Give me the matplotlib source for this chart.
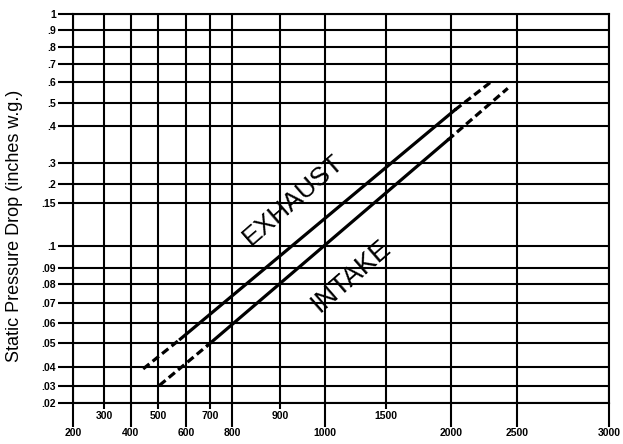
import numpy as np
import matplotlib
matplotlib.use("Agg")
import matplotlib.pyplot as plt

# axis tick values (cfm on x, inches w.g. on y)
x_major = [200, 400, 600, 800, 1000, 2000, 2500, 3000]
x_minor = [300, 500, 700, 900, 1500]
y_ticks = [.02, .03, .04, .05, .06, .07, .08, .09, .1, .15, .2, .3, .4, .5, .6, .7, .8, .9, 1]
y_labels = [".02", ".03", ".04", ".05", ".06", ".07", ".08", ".09", ".1", ".15",
            ".2", ".3", ".4", ".5", ".6", ".7", ".8", ".9", "1"]

# curves: dashed - solid - dashed
exhaust_x = [445, 580, 2030, 2320]
exhaust_y = [0.039, 0.052, 0.47, 0.61]
intake_x = [505, 690, 1975, 2430]
intake_y = [0.0303, 0.049, 0.362, 0.57]

# the printed chart has an uneven grid, so map tick values onto the drawn spacing
x_all = sorted(x_major + x_minor)
x_pos = [0, 31, 58, 85, 113, 137, 159, 207, 252, 313, 378, 444, 536]
y_pos = [0, 17, 36, 60, 80, 100, 119, 135, 157, 200, 219, 240, 277, 300, 321, 339, 356, 373, 389]

def fx(v):
    return np.interp(v, x_all, x_pos)
def ix(p):
    return np.interp(p, x_pos, x_all)
def fy(v):
    return np.interp(v, y_ticks, y_pos)
def iy(p):
    return np.interp(p, y_pos, y_ticks)

plt.rcParams['font.family'] = ['Liberation Sans', 'DejaVu Sans']

fig = plt.figure(figsize=(6.23, 4.44), dpi=100)
ax = fig.add_axes([73/623, 41/444, 536/623, 389/444])
ax.set_xscale('function', functions=(fx, ix))
ax.set_yscale('function', functions=(fy, iy))
ax.set_xlim(200, 3000)
ax.set_ylim(.02, 1)

ax.set_xticks(x_major)
ax.set_xticks(x_minor, minor=True)
ax.set_xticklabels([str(v) for v in x_major], fontweight='bold', fontsize=7.5)
ax.set_xticklabels([str(v) for v in x_minor], minor=True, fontweight='bold', fontsize=7.5)
ax.set_yticks(y_ticks)
ax.set_yticks([], minor=True)
ax.set_yticklabels(y_labels, fontweight='bold', fontsize=7.5)

ax.tick_params(axis='x', which='major', direction='out', length=17, width=1.5, pad=1)
ax.tick_params(axis='x', which='minor', direction='out', length=4.5, width=1.5, pad=1)
ax.tick_params(axis='y', direction='out', length=10.5, width=1.5, pad=2)

ax.grid(True, which='both', color='black', linewidth=1.5)
for s in ax.spines.values():
    s.set_linewidth(1.5)
    s.set_color('black')

lw = 2.3
dash = (0, (2.5, 1.3))
ax.plot(exhaust_x[:2], exhaust_y[:2], color='black', lw=lw, linestyle=dash, zorder=3)
ax.plot(exhaust_x[1:3], exhaust_y[1:3], color='black', lw=lw, zorder=3)
ax.plot(exhaust_x[2:], exhaust_y[2:], color='black', lw=lw, linestyle=dash, zorder=3)
ax.plot(intake_x[:2], intake_y[:2], color='black', lw=lw, linestyle=dash, zorder=3)
ax.plot(intake_x[1:3], intake_y[1:3], color='black', lw=lw, zorder=3)
ax.plot(intake_x[2:], intake_y[2:], color='black', lw=lw, linestyle=dash, zorder=3)

ax.text(930, .158, "EXHAUST", rotation=41, rotation_mode='anchor', ha='center', va='center',
        fontsize=19, zorder=4)
ax.text(1215, .085, "INTAKE", rotation=41, rotation_mode='anchor', ha='center', va='center',
        fontsize=19.5, zorder=4)

fig.text(15/623, 1 - 226/444, "Static Pressure Drop (inches w.g.)", rotation=90,
         ha='center', va='center', fontsize=13)

fig.savefig("out.png", dpi=100)
